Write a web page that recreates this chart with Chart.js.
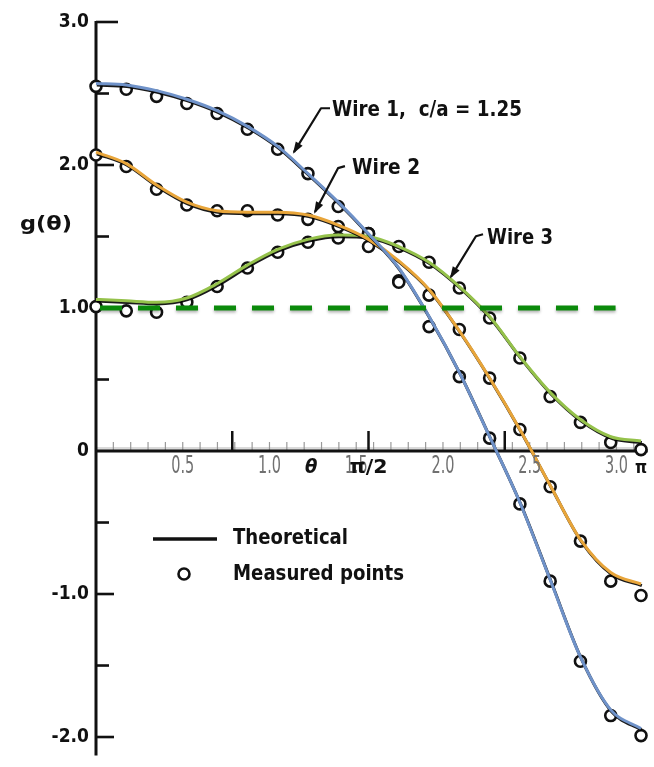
<!DOCTYPE html>
<html><head><meta charset="utf-8">
<script src="https://cdn.jsdelivr.net/npm/chart.js@4.4.1/dist/chart.umd.min.js"></script>
<style>html,body{margin:0;padding:0;background:#fff;overflow:hidden}#wrap{width:654px;height:767px}</style>
</head><body><div id="wrap"><canvas id="c" width="654" height="767"></canvas></div>
<script>
// theta in radians, 10-degree steps from 0 to pi
const thetaRad = [0, 0.1745, 0.3491, 0.5236, 0.6981, 0.8727, 1.0472, 1.2217, 1.3963, 1.5708, 1.7453, 1.9199, 2.0944, 2.2689, 2.4435, 2.6180, 2.7925, 2.9671, 3.1416];

const wire1Theory   = [2.57, 2.56, 2.52, 2.46, 2.38, 2.27, 2.13, 1.94, 1.74, 1.52, 1.28, 0.94, 0.55, 0.10, -0.36, -0.90, -1.44, -1.81, -1.94];
const wire1Measured = [2.55, 2.53, 2.48, 2.43, 2.36, 2.25, 2.11, 1.94, 1.71, 1.43, 1.18, 0.87, 0.52, 0.09, -0.37, -0.91, -1.47, -1.85, -1.99];

const wire2Theory   = [2.09, 2.01, 1.86, 1.74, 1.68, 1.67, 1.67, 1.65, 1.58, 1.48, 1.33, 1.13, 0.84, 0.51, 0.15, -0.24, -0.62, -0.85, -0.93];
const wire2Measured = [2.07, 1.99, 1.83, 1.72, 1.68, 1.68, 1.65, 1.62, 1.57, 1.52, 1.19, 1.09, 0.85, 0.51, 0.15, -0.25, -0.63, -0.91, -1.01];

const wire3Theory   = [1.06, 1.05, 1.04, 1.07, 1.17, 1.30, 1.41, 1.48, 1.51, 1.50, 1.43, 1.32, 1.15, 0.94, 0.66, 0.41, 0.22, 0.10, 0.07];
const wire3Measured = [1.01, 0.98, 0.97, 1.04, 1.15, 1.28, 1.39, 1.46, 1.49, 1.52, 1.43, 1.32, 1.14, 0.93, 0.65, 0.38, 0.20, 0.06, 0.01];

const refLineX = [0.023, 2.995];
const refLineY = [1.0, 1.0];

const xLabelTicks = [0.5, 1.0, 1.5, 2.0, 2.5, 3.0];
const xLabelText  = ['0.5', '1.0', '1.5', '2.0', '2.5', '3.0'];
const xMinorTicks = [0.1,0.2,0.3,0.4,0.5,0.6,0.7,0.8,0.9,1.0,1.1,1.2,1.3,1.4,1.5,1.6,1.7,1.8,1.9,2.0,2.1,2.2,2.3,2.4,2.5,2.6,2.7,2.8,2.9,3.0,3.1];
const xMajorTicks = [0.7854, 1.5708, 2.3562];
const yLabelTicks = [3, 2, 1, 0, -1, -2];
const yLabelText  = ['3.0', '2.0', '1.0', '0', '-1.0', '-2.0'];
const yMinorTicks = [2.5, 1.5, 0.5, -0.5, -1.5];

const pts = (xs, ys) => xs.map((x, i) => ({x: x, y: ys[i]}));

const BLUE = '#6f92c9', ORANGE = '#e8a53a', GREEN = '#95c24b', DGREEN = '#0b8a0b';

function lineDS(label, data, color) {
  return {label, data: pts(thetaRad, data), showLine: true, borderColor: color, borderWidth: 3,
    pointRadius: 0, cubicInterpolationMode: 'monotone', fill: false, order: 2, clip: false, _edge: true};
}
function pointDS(label, data) {
  return {label, data: pts(thetaRad, data), showLine: false, pointRadius: 5.5, pointBorderWidth: 2.6,
    pointBorderColor: '#111', pointBackgroundColor: '#fff', order: 3, clip: false};
}

const FONT_B = '"DejaVu Sans Condensed", "DejaVu Sans", sans-serif';

function txt(ctx, s, x, y, font, color, align, w) {
  ctx.save();
  ctx.font = font; ctx.fillStyle = color; ctx.textBaseline = 'middle'; ctx.textAlign = 'left';
  const m = ctx.measureText(s).width;
  const sx = w ? w / m : 1;
  ctx.translate(x, y); ctx.scale(sx, 1);
  let ox = 0;
  if (align === 'right') ox = -m; else if (align === 'center') ox = -m / 2;
  ctx.fillText(s, ox, 0);
  ctx.restore();
}

function leader(ctx, P) {
  ctx.save();
  ctx.strokeStyle = '#111'; ctx.fillStyle = '#111'; ctx.lineWidth = 2.2; ctx.lineJoin = 'round';
  ctx.beginPath(); ctx.moveTo(P[0][0], P[0][1]);
  for (let i = 1; i < P.length; i++) ctx.lineTo(P[i][0], P[i][1]);
  ctx.stroke();
  const a = P[P.length - 2], b = P[P.length - 1];
  const ang = Math.atan2(b[1] - a[1], b[0] - a[0]);
  ctx.translate(b[0], b[1]); ctx.rotate(ang);
  ctx.beginPath(); ctx.moveTo(2, 0); ctx.lineTo(-10, -4); ctx.lineTo(-10, 4); ctx.closePath(); ctx.fill();
  ctx.restore();
}

const decor = {
  id: 'decor',
  beforeDatasetsDraw(chart) {
    const ctx = chart.ctx, xs = chart.scales.x, ys = chart.scales.y;
    const X = v => xs.getPixelForValue(v), Y = v => ys.getPixelForValue(v);
    const x0 = X(0), y0 = Y(0);
    ctx.save();
    ctx.strokeStyle = '#9a9a9a'; ctx.lineWidth = 1.2;
    xMinorTicks.forEach(v => { ctx.beginPath(); ctx.moveTo(X(v), y0); ctx.lineTo(X(v), y0 - 9); ctx.stroke(); });
    ctx.fillStyle = 'rgba(150,150,150,0.35)'; ctx.fillRect(x0, y0 - 4, X(3.18) - x0, 3);
    ctx.strokeStyle = '#111'; ctx.lineWidth = 3;
    ctx.beginPath(); ctx.moveTo(x0, y0); ctx.lineTo(X(3.18), y0); ctx.stroke();
    ctx.lineWidth = 2.5;
    xMajorTicks.forEach(v => { ctx.beginPath(); ctx.moveTo(X(v), y0); ctx.lineTo(X(v), y0 - 20); ctx.stroke(); });
    ctx.lineWidth = 3;
    ctx.beginPath(); ctx.moveTo(x0, Y(3.0) - 1); ctx.lineTo(x0, Y(-2.13)); ctx.stroke();
    ctx.lineWidth = 2.6;
    yLabelTicks.forEach(v => { if (v === 0) return; const L = v === 3 ? 22 : 18;
      ctx.beginPath(); ctx.moveTo(x0, Y(v)); ctx.lineTo(x0 + L, Y(v)); ctx.stroke(); });
    yMinorTicks.forEach(v => { ctx.beginPath(); ctx.moveTo(x0, Y(v)); ctx.lineTo(x0 + 13, Y(v)); ctx.stroke(); });
    ctx.restore();
  },
  beforeDatasetDraw(chart, args) {
    const ds = chart.data.datasets[args.index];
    const ctx = chart.ctx;
    if (ds._edge) { ctx.shadowColor = 'rgba(0,0,0,0.9)'; ctx.shadowOffsetX = 0.8; ctx.shadowOffsetY = 1.6; ctx.shadowBlur = 0; }
    if (ds._dash) { ctx.shadowColor = 'rgba(0,0,0,0.3)'; ctx.shadowOffsetX = 0; ctx.shadowOffsetY = 2; ctx.shadowBlur = 3; }
  },
  afterDatasetDraw(chart) {
    const ctx = chart.ctx;
    ctx.shadowColor = 'rgba(0,0,0,0)'; ctx.shadowOffsetX = 0; ctx.shadowOffsetY = 0; ctx.shadowBlur = 0;
  },
  afterDatasetsDraw(chart) {
    const ctx = chart.ctx, xs = chart.scales.x, ys = chart.scales.y;
    const X = v => xs.getPixelForValue(v), Y = v => ys.getPixelForValue(v);
    const x0 = X(0), y0 = Y(0);
    yLabelTicks.forEach((v, i) => txt(ctx, yLabelText[i], x0 - 7, Y(v), 'bold 19px ' + FONT_B, '#111', 'right'));
    xLabelTicks.forEach((v, i) => txt(ctx, xLabelText[i], X(v), y0 + 16, '24px "Liberation Sans Narrow", "DejaVu Sans Condensed", sans-serif', '#707070', 'center', 23));
    txt(ctx, 'g(θ)', 46, Y(1.58), 'bold 20px ' + FONT_B, '#111', 'center', 52);
    txt(ctx, 'θ', X(1.24), y0 + 17, 'italic bold 20px ' + FONT_B, '#111', 'center');
    txt(ctx, 'π/2', X(1.5708), y0 + 17, 'bold 20px ' + FONT_B, '#111', 'center', 38);
    txt(ctx, 'π', X(3.1416), y0 + 18, 'bold 17px ' + FONT_B, '#111', 'center');
    txt(ctx, 'Wire 1,  c/a = 1.25', X(1.360), Y(2.383), 'bold 21px ' + FONT_B, '#111', 'left', 190);
    leader(ctx, [[X(1.349), Y(2.397)], [X(1.297), Y(2.397)], [X(1.141), Y(2.090)]]);
    txt(ctx, 'Wire 2', X(1.476), Y(1.978), 'bold 21px ' + FONT_B, '#111', 'left', 68);
    leader(ctx, [[X(1.435), Y(1.992)], [X(1.395), Y(1.978)], [X(1.262), Y(1.671)]]);
    txt(ctx, 'Wire 3', X(2.254), Y(1.488), 'bold 21px ' + FONT_B, '#111', 'left', 66);
    leader(ctx, [[X(2.231), Y(1.516)], [X(2.190), Y(1.502)], [X(2.046), Y(1.218)]]);
    ctx.save();
    ctx.strokeStyle = '#111'; ctx.lineWidth = 3.5;
    ctx.beginPath(); ctx.moveTo(153, 539); ctx.lineTo(217, 539); ctx.stroke();
    ctx.lineWidth = 2.6; ctx.fillStyle = '#fff';
    ctx.beginPath(); ctx.arc(184, 574, 5.5, 0, Math.PI * 2); ctx.fill(); ctx.stroke();
    ctx.restore();
    txt(ctx, 'Theoretical', 233, 539, 'bold 21px ' + FONT_B, '#111', 'left', 115);
    txt(ctx, 'Measured points', 233, 575, 'bold 21px ' + FONT_B, '#111', 'left', 171);
  }
};

new Chart(document.getElementById('c'), {
  type: 'scatter',
  data: {
    datasets: [
      {label: 'g = 1 reference', data: pts(refLineX, refLineY), showLine: true, borderColor: DGREEN, borderWidth: 5,
        borderDash: [22, 16], pointRadius: 0, order: 1, _dash: true, clip: false},
      lineDS('Wire 1 (theoretical)', wire1Theory, BLUE),
      lineDS('Wire 2 (theoretical)', wire2Theory, ORANGE),
      lineDS('Wire 3 (theoretical)', wire3Theory, GREEN),
      pointDS('Wire 1 (measured)', wire1Measured),
      pointDS('Wire 2 (measured)', wire2Measured),
      pointDS('Wire 3 (measured)', wire3Measured)
    ]
  },
  options: {
    responsive: false, animation: false, devicePixelRatio: 1,
    layout: {padding: {left: 96, right: 9, top: 22, bottom: 7}},
    scales: {
      x: {type: 'linear', min: 0, max: 3.1646, display: false},
      y: {type: 'linear', min: -2.153, max: 3.0, display: false}
    },
    plugins: {legend: {display: false}, tooltip: {enabled: false}}
  },
  plugins: [decor]
});
</script>
</body></html>
